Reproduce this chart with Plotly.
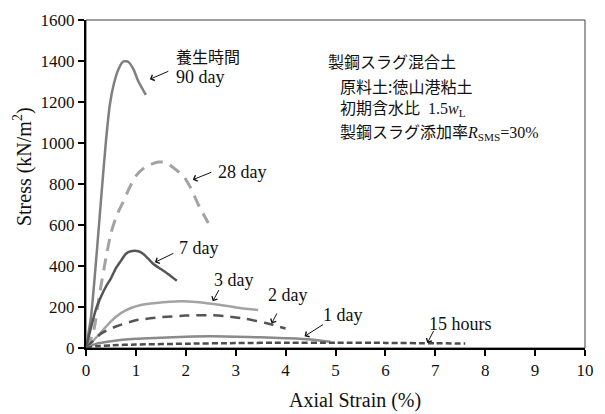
import plotly.graph_objects as go

# ---- data (Axial strain %, Stress kN/m2) ----
x_90d = [0, 0.1, 0.2, 0.3, 0.4, 0.48, 0.56, 0.65, 0.75, 0.85, 0.95, 1.05, 1.2]
y_90d = [0, 150, 420, 720, 1010, 1190, 1290, 1360, 1398, 1395, 1360, 1300, 1235]

x_28d = [0, 0.14, 0.28, 0.4, 0.5, 0.62, 0.74, 0.85, 1.0, 1.2, 1.45, 1.6, 1.8, 1.95, 2.1, 2.25, 2.45]
y_28d = [0, 70, 275, 440, 560, 650, 710, 770, 840, 885, 907, 905, 870, 840, 780, 700, 610]

x_7d = [0, 0.1, 0.2, 0.3, 0.4, 0.5, 0.6, 0.7, 0.8, 0.9, 1.05, 1.15, 1.25, 1.35, 1.5, 1.65, 1.82]
y_7d = [0, 100, 190, 250, 300, 340, 390, 425, 460, 472, 472, 458, 435, 410, 385, 360, 328]

x_3d = [0, 0.2, 0.35, 0.5, 0.7, 0.9, 1.1, 1.4, 1.9, 2.2, 2.6, 3.0, 3.45]
y_3d = [0, 50, 90, 130, 170, 195, 210, 220, 228, 225, 213, 198, 185]

x_2d = [0, 0.3, 0.6, 1.0, 1.5, 2.0, 2.5, 2.8, 3.2, 3.6, 4.0]
y_2d = [0, 70, 105, 135, 150, 158, 160, 155, 142, 122, 95]

x_1d = [0, 0.2, 0.5, 1.0, 1.5, 2.0, 2.5, 3.0, 3.5, 4.0, 4.5, 4.9]
y_1d = [0, 20, 33, 45, 50, 55, 57, 55, 52, 48, 42, 30]

x_15h = [0, 0.2, 0.5, 1, 2, 3, 4, 5, 6, 7, 7.6]
y_15h = [0, 8, 13, 17, 21, 24, 26, 26, 25, 23, 22]

# label text, text position (x, y), arrow head (x, y), arrow tail (x, y)
labels = ["90 day", "28 day", "7 day", "3 day", "2 day", "1 day", "15 hours"]
label_pos = [(1.76, 1320), (2.6, 860), (1.82, 489), (2.96, 332), (4.04, 261), (5.15, 161), (7.51, 119)]
label_anchor = ["left", "left", "left", "center", "center", "center", "center"]
arrow_head = [(1.28, 1311), (2.14, 821), (1.38, 418), (2.54, 228), (3.72, 119), (4.38, 57), (6.84, 24)]
arrow_tail = [(1.68, 1353), (2.54, 860), (1.78, 465), (2.68, 290), (3.84, 176), (4.78, 119), (6.98, 90)]

SERIF = "Liberation Serif, Times New Roman, serif"
JP = "Noto Sans CJK JP"

fig = go.Figure()

series = [
    (x_90d, y_90d, "#7f7f7f", "solid", 2.5),
    (x_28d, y_28d, "#a3a3a3", "12px,8px", 3),
    (x_7d, y_7d, "#555555", "solid", 2.5),
    (x_3d, y_3d, "#a3a3a3", "solid", 2.5),
    (x_2d, y_2d, "#555555", "10px,7px", 2.5),
    (x_1d, y_1d, "#8a8a8a", "solid", 2.5),
    (x_15h, y_15h, "#4d4d4d", "6px,3px", 2.5),
]
for xs, ys, col, dash, w in series:
    fig.add_trace(go.Scatter(x=xs, y=ys, mode="lines",
                             line=dict(color=col, dash=dash, width=w, shape="spline", smoothing=0.6),
                             showlegend=False, hoverinfo="skip"))

annotations = []
for lab, (tx, ty), anc, (hx, hy), (ax, ay) in zip(labels, label_pos, label_anchor, arrow_head, arrow_tail):
    annotations.append(dict(x=tx, y=ty, xref="x", yref="y", text=lab, showarrow=False,
                            xanchor=anc, yanchor="middle",
                            font=dict(family=SERIF, size=18, color="#111")))
    annotations.append(dict(x=hx, y=hy, ax=ax, ay=ay, xref="x", yref="y", axref="x", ayref="y",
                            text="", showarrow=True, arrowhead=4, arrowsize=1.2, arrowwidth=1,
                            arrowcolor="#111"))

annotations.append(dict(x=2.44, y=1425, xref="x", yref="y", text="養生時間", showarrow=False,
                        xanchor="center", yanchor="middle", font=dict(family=JP, size=16, color="#111")))

block = [
    (4.8, 1401, "製鋼スラグ混合土"),
    (5.06, 1277, "原料土:徳山港粘土"),
    (5.06, 1178, "初期含水比<span style='font-family:Liberation Serif'>  1.5<i>w</i><sub>L</sub></span>"),
    (5.06, 1059, "製鋼スラグ添加率<span style='font-family:Liberation Serif'><i>R</i><sub>SMS</sub>=30%</span>"),
]
for bx, by, bt in block:
    annotations.append(dict(x=bx, y=by, xref="x", yref="y", text=bt, showarrow=False,
                            xanchor="left", yanchor="middle", font=dict(family=JP, size=16, color="#111")))

annotations.append(dict(x=0.54, y=-0.160, xref="paper", yref="paper", text="Axial Strain (%)",
                        showarrow=False, xanchor="center", yanchor="middle",
                        font=dict(family=SERIF, size=20, color="#111")))
annotations.append(dict(x=-0.126, y=0.552, xref="paper", yref="paper", text="Stress (kN/m<sup>2</sup>)",
                        showarrow=False, xanchor="center", yanchor="middle", textangle=-90,
                        font=dict(family=SERIF, size=20, color="#111")))

fig.update_layout(
    width=605, height=414,
    margin=dict(l=86, r=19, t=11, b=66),
    paper_bgcolor="white", plot_bgcolor="white",
    annotations=annotations,
    shapes=[dict(type="rect", xref="paper", yref="paper", x0=0, x1=1, y0=0, y1=1,
                 line=dict(color="#404040", width=1), layer="below")],
    xaxis=dict(range=[0, 10], dtick=1, tick0=0, showgrid=False, zeroline=False,
               showline=True, linecolor="black", linewidth=2,
               ticks="outside", ticklen=6, tickwidth=1.5, tickcolor="black",
               tickfont=dict(family=SERIF, size=17, color="#111")),
    yaxis=dict(range=[0, 1600], dtick=200, tick0=0, showgrid=False, zeroline=False,
               showline=True, linecolor="black", linewidth=2,
               ticks="outside", ticklen=6, tickwidth=1.5, tickcolor="black",
               tickfont=dict(family=SERIF, size=17, color="#111")),
)

fig.write_html("out.html")
